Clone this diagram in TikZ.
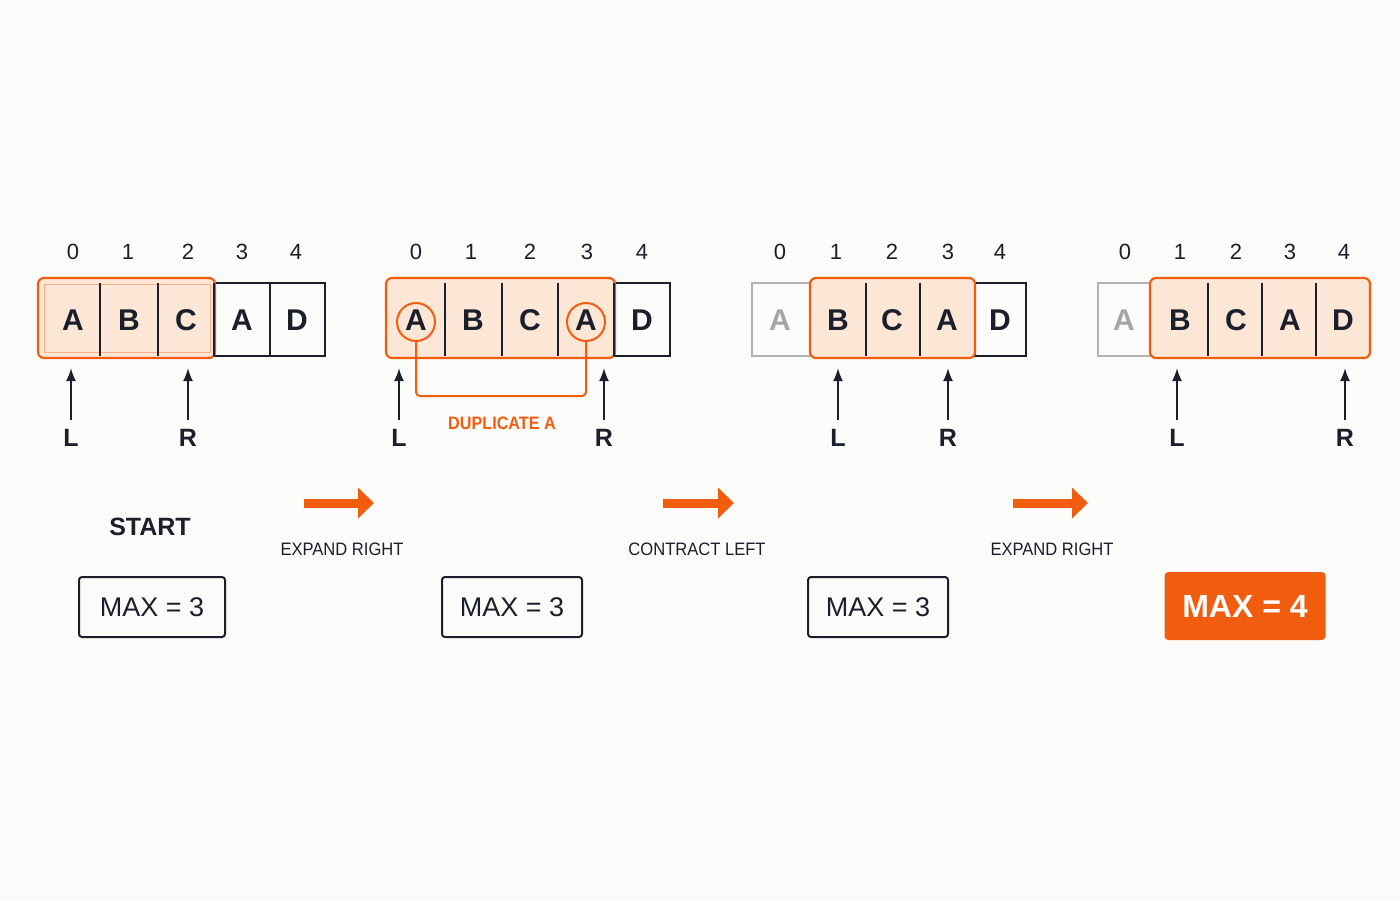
\documentclass[tikz,border=0pt]{standalone}
\usepackage{fontspec}
\setmainfont{Liberation Sans}
\usetikzlibrary{arrows.meta}
\definecolor{org}{HTML}{F25C0F}
\definecolor{peach}{HTML}{FCE6D6}
\definecolor{ink}{HTML}{1A1F2B}
\definecolor{bg}{HTML}{FBFBFA}
\begin{document}
\begin{tikzpicture}[x=1pt,y=-1pt,
  cellbox/.style={draw=ink,line width=2pt},
  greybox/.style={draw=black!30,line width=1.5pt},
  win/.style={draw=org,fill=peach,line width=2.2pt,rounded corners=6pt},
  letter/.style={font=\fontsize{30}{30}\selectfont\bfseries,text=ink},
  idx/.style={font=\fontsize{22}{22}\selectfont,text=ink},
  ptr/.style={font=\fontsize{25}{25}\selectfont\bfseries,text=ink},
  parrow/.style={draw=ink,line width=2pt,-{Latex[length=13pt,width=10pt]}},
  steplbl/.style={font=\fontsize{18}{18}\selectfont,text=ink,xscale=0.92},
  bigarrow/.style={draw=org,line width=9pt,-{Triangle[length=16pt,width=30pt]}},
  maxbox/.style={draw=ink,line width=2pt,rounded corners=3pt,minimum width=146pt,minimum height=60pt,font=\fontsize{27}{27}\selectfont,text=ink},
  sep/.style={draw=ink,line width=1.6pt}]
\fill[bg] (0,0) rectangle (1400,900);
\useasboundingbox (0,0) rectangle (1400,900);
% ---------- panel 1
\draw[cellbox] (40,283) rectangle (325,356);
\draw[win] (38,278) rectangle (215,358);
\draw[draw=org!50,line width=1pt] (44,284) rectangle (210,352);
\foreach \x in {100,158,214,270} \draw[sep] (\x,283) -- (\x,356);
\foreach \x/\l in {73/A,129/B,186/C,242/A,297/D} \node[letter] at (\x,320) {\l};
\foreach \x/\i in {73/0,128/1,188/2,242/3,296/4} \node[idx] at (\x,252) {\i};
\node[ptr] (L1) at (71,438) {L};
\node[ptr] (R1) at (188,438) {R};
\coordinate (l1) at (71,368); \coordinate (r1) at (188,368);
\draw[parrow] (L1.north) ++(0,-6) -- (l1);
\draw[parrow] (R1.north) ++(0,-6) -- (r1);
% ---------- panel 2
\draw[cellbox] (388,283) rectangle (670,356);
\draw[win] (386,278) rectangle (615,358);
\foreach \x in {445,502,558,614} \draw[sep] (\x,283) -- (\x,356);
\foreach \x/\l in {416/A,473/B,530/C,586/A,642/D} \node[letter] at (\x,320) {\l};
\foreach \x/\i in {416/0,471/1,530/2,587/3,642/4} \node[idx] at (\x,252) {\i};
\node[draw=org,line width=2pt,circle,minimum size=38pt] (c1) at (416,322) {};
\node[draw=org,line width=2pt,circle,minimum size=38pt] (c2) at (586,322) {};
\draw[org,line width=2pt,rounded corners=4pt] (c1.south) -- (416,396) -- (586,396) -- (c2.south);
\node[font=\fontsize{18}{18}\selectfont\bfseries,text=org,xscale=0.9] (dup) at (502,423) {DUPLICATE A};
\node[ptr] (L2) at (399,438) {L};
\node[ptr] (R2) at (604,438) {R};
\coordinate (l2) at (399,368); \coordinate (r2) at (604,368);
\draw[parrow] (L2.north) ++(0,-6) -- (l2);
\draw[parrow] (R2.north) ++(0,-6) -- (r2);
% ---------- panel 3
\draw[greybox] (752,283) rectangle (810,356);
\draw[cellbox] (975,283) rectangle (1026,356);
\draw[win] (810,278) rectangle (975,358);
\foreach \x in {866,920} \draw[sep] (\x,283) -- (\x,356);
\node[letter,text=black!35] at (780,320) {A};
\foreach \x/\l in {838/B,892/C,947/A,1000/D} \node[letter] at (\x,320) {\l};
\foreach \x/\i in {780/0,836/1,892/2,948/3,1000/4} \node[idx] at (\x,252) {\i};
\node[ptr] (L3) at (838,438) {L};
\node[ptr] (R3) at (948,438) {R};
\coordinate (l3) at (838,368); \coordinate (r3) at (948,368);
\draw[parrow] (L3.north) ++(0,-6) -- (l3);
\draw[parrow] (R3.north) ++(0,-6) -- (r3);
% ---------- panel 4
\draw[greybox] (1098,283) rectangle (1150,356);
\draw[win] (1150,278) rectangle (1370,358);
\foreach \x in {1208,1262,1316} \draw[sep] (\x,283) -- (\x,356);
\node[letter,text=black!35] at (1124,320) {A};
\foreach \x/\l in {1180/B,1236/C,1290/A,1343/D} \node[letter] at (\x,320) {\l};
\foreach \x/\i in {1125/0,1180/1,1236/2,1290/3,1344/4} \node[idx] at (\x,252) {\i};
\node[ptr] (L4) at (1177,438) {L};
\node[ptr] (R4) at (1345,438) {R};
\coordinate (l4) at (1177,368); \coordinate (r4) at (1345,368);
\draw[parrow] (L4.north) ++(0,-6) -- (l4);
\draw[parrow] (R4.north) ++(0,-6) -- (r4);
% ---------- steps
\node[font=\fontsize{25}{25}\selectfont\bfseries,text=ink] (start) at (150,527) {START};
\coordinate (a1s) at (304,503); \coordinate (a1e) at (374,503);
\coordinate (a2s) at (663,503); \coordinate (a2e) at (734,503);
\coordinate (a3s) at (1013,503); \coordinate (a3e) at (1088,503);
\draw[bigarrow] (a1s) -- (a1e);
\draw[bigarrow] (a2s) -- (a2e);
\draw[bigarrow] (a3s) -- (a3e);
\node[steplbl] (s1) at (342,549) {EXPAND RIGHT};
\node[steplbl] (s2) at (697,549) {CONTRACT LEFT};
\node[steplbl] (s3) at (1052,549) {EXPAND RIGHT};
\node[maxbox] (m1) at (152,607) {MAX = 3};
\node[maxbox,minimum width=140pt] (m2) at (512,607) {MAX = 3};
\node[maxbox,minimum width=140pt] (m3) at (878,607) {MAX = 3};
\node[maxbox,draw=org,fill=org,text=white,minimum width=159pt,minimum height=66pt,font=\fontsize{32}{32}\selectfont\bfseries] (m4) at (1245,606) {MAX = 4};
\end{tikzpicture}
\end{document}
